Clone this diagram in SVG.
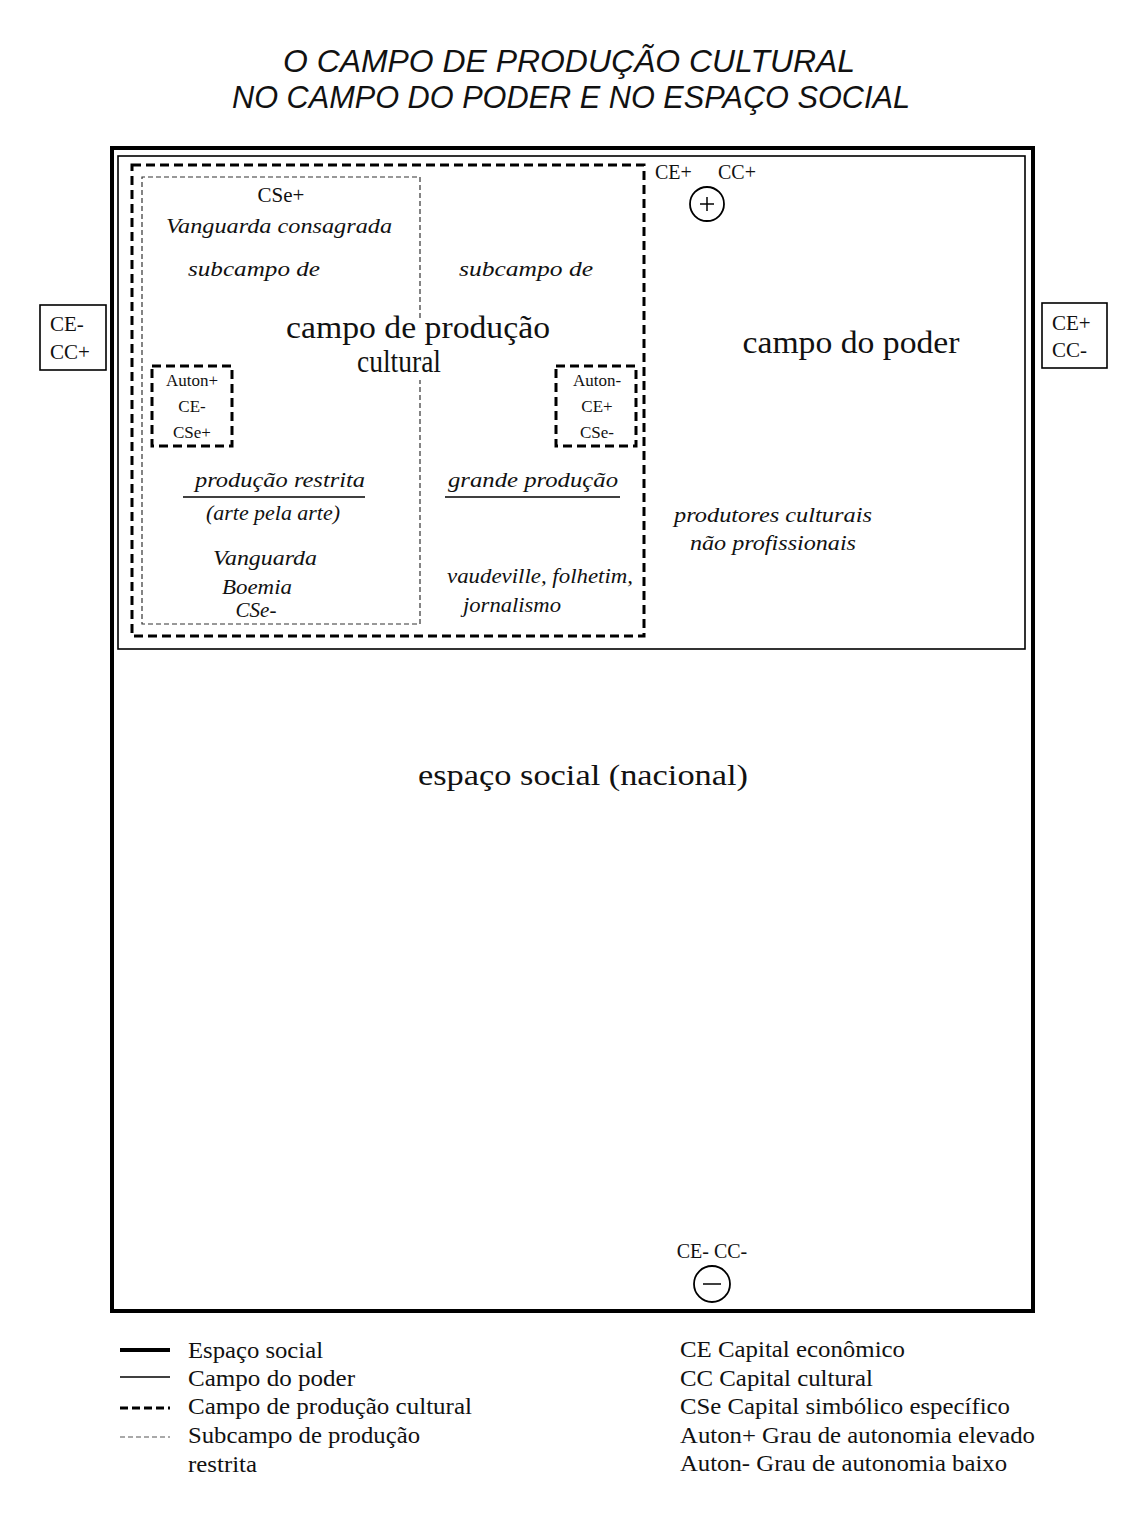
<svg xmlns="http://www.w3.org/2000/svg" width="1137" height="1521" viewBox="0 0 1137 1521">
<style>
.t{font-family:"Liberation Serif","Times New Roman",serif;fill:#111}
.i{font-family:"Liberation Serif","Times New Roman",serif;font-style:italic;fill:#111}
.h{font-family:"Liberation Sans",Arial,sans-serif;font-style:italic;fill:#111}
.thick{fill:none;stroke:#000;stroke-width:4}
.thin{fill:none;stroke:#000;stroke-width:1.6}
.dash{fill:none;stroke:#000;stroke-width:3;stroke-dasharray:9 5}
.sub{fill:none;stroke:#333;stroke-width:1.2;stroke-dasharray:5 3}
.box{fill:none;stroke:#000;stroke-width:1.6}
</style>
<rect width="1137" height="1521" fill="#ffffff"/>
<g id="title">
<text class="h" x="569" y="72" font-size="31" text-anchor="middle" textLength="572" lengthAdjust="spacingAndGlyphs">O CAMPO DE PRODUÇÃO CULTURAL</text>
<text class="h" x="571" y="108" font-size="31" text-anchor="middle" textLength="678" lengthAdjust="spacingAndGlyphs">NO CAMPO DO PODER E NO ESPAÇO SOCIAL</text>
</g>
<g id="espaco-social">
<rect class="thick" x="112" y="148" width="921" height="1163"/>
<text class="t" x="583" y="785" font-size="30" text-anchor="middle" textLength="330" lengthAdjust="spacingAndGlyphs">espaço social (nacional)</text>
<text class="t" x="712" y="1258" font-size="20" text-anchor="middle">CE- CC-</text>
<circle cx="712" cy="1284" r="18" fill="none" stroke="#000" stroke-width="1.8"/>
<line x1="703" y1="1284" x2="721" y2="1284" stroke="#000" stroke-width="1.5"/>
</g>
<g id="campo-do-poder">
<rect class="thin" x="118" y="156" width="907" height="493"/>
<text class="t" x="655" y="179" font-size="20">CE+</text>
<text class="t" x="718" y="179" font-size="20">CC+</text>
<circle cx="707" cy="204" r="17" fill="none" stroke="#000" stroke-width="1.8"/>
<line x1="700" y1="204" x2="714" y2="204" stroke="#000" stroke-width="1.5"/>
<line x1="707" y1="197" x2="707" y2="211" stroke="#000" stroke-width="1.5"/>
<text class="t" x="851" y="353" font-size="31" text-anchor="middle" textLength="217" lengthAdjust="spacingAndGlyphs">campo do poder</text>
<text class="i" x="773" y="522" font-size="21" text-anchor="middle" textLength="198" lengthAdjust="spacingAndGlyphs">produtores culturais</text>
<text class="i" x="773" y="550" font-size="21" text-anchor="middle" textLength="166" lengthAdjust="spacingAndGlyphs">não profissionais</text>
</g>
<g id="campo-producao-cultural">
<rect class="dash" x="132" y="165" width="512" height="471"/>
<text class="t" x="418" y="338" font-size="31" text-anchor="middle" textLength="264" lengthAdjust="spacingAndGlyphs">campo de produção</text>
<text class="t" x="399" y="372" font-size="31" text-anchor="middle" textLength="84" lengthAdjust="spacingAndGlyphs">cultural</text>
<text class="i" x="526" y="276" font-size="21" text-anchor="middle" textLength="134" lengthAdjust="spacingAndGlyphs">subcampo de</text>
<text class="i" x="533" y="487" font-size="21" text-anchor="middle" textLength="170" lengthAdjust="spacingAndGlyphs">grande produção</text>
<line x1="445" y1="497" x2="620" y2="497" stroke="#000" stroke-width="1.6"/>
<text class="i" x="540" y="583" font-size="21" text-anchor="middle" textLength="186" lengthAdjust="spacingAndGlyphs">vaudeville, folhetim,</text>
<text class="i" x="512" y="612" font-size="21" text-anchor="middle" textLength="98" lengthAdjust="spacingAndGlyphs">jornalismo</text>
</g>
<g id="subcampo-producao-restrita">
<path class="sub" d="M420 318 V177 H142 V624 H420 V380"/>
<text class="t" x="281" y="202" font-size="21" text-anchor="middle">CSe+</text>
<text class="i" x="279" y="233" font-size="21" text-anchor="middle" textLength="226" lengthAdjust="spacingAndGlyphs">Vanguarda consagrada</text>
<text class="i" x="254" y="276" font-size="21" text-anchor="middle" textLength="132" lengthAdjust="spacingAndGlyphs">subcampo de</text>
<text class="i" x="280" y="487" font-size="21" text-anchor="middle" textLength="170" lengthAdjust="spacingAndGlyphs">produção restrita</text>
<line x1="183" y1="497" x2="365" y2="497" stroke="#000" stroke-width="1.6"/>
<text class="i" x="273" y="520" font-size="21" text-anchor="middle" textLength="134" lengthAdjust="spacingAndGlyphs">(arte pela arte)</text>
<text class="i" x="265" y="565" font-size="21" text-anchor="middle" textLength="104" lengthAdjust="spacingAndGlyphs">Vanguarda</text>
<text class="i" x="257" y="594" font-size="21" text-anchor="middle" textLength="70" lengthAdjust="spacingAndGlyphs">Boemia</text>
<text class="i" x="256" y="617" font-size="21" text-anchor="middle">CSe-</text>
</g>
<g id="auton-plus">
<rect class="dash" x="152" y="366" width="80" height="80"/>
<text class="t" x="192" y="386" font-size="17" text-anchor="middle">Auton+</text>
<text class="t" x="192" y="412" font-size="17" text-anchor="middle">CE-</text>
<text class="t" x="192" y="438" font-size="17" text-anchor="middle">CSe+</text>
</g>
<g id="auton-minus">
<rect class="dash" x="556" y="366" width="80" height="80"/>
<text class="t" x="597" y="386" font-size="17" text-anchor="middle">Auton-</text>
<text class="t" x="597" y="412" font-size="17" text-anchor="middle">CE+</text>
<text class="t" x="597" y="438" font-size="17" text-anchor="middle">CSe-</text>
</g>
<g id="ce-minus-cc-plus">
<rect class="box" x="40" y="305" width="66" height="65"/>
<text class="t" x="50" y="331" font-size="21">CE-</text>
<text class="t" x="50" y="359" font-size="21">CC+</text>
</g>
<g id="ce-plus-cc-minus">
<rect class="box" x="1042" y="303" width="65" height="65"/>
<text class="t" x="1052" y="330" font-size="21">CE+</text>
<text class="t" x="1052" y="357" font-size="21">CC-</text>
</g>
<g id="connectors"></g>
<g id="legend">
<line x1="120" y1="1350" x2="170" y2="1350" stroke="#000" stroke-width="4"/>
<line x1="120" y1="1377" x2="170" y2="1377" stroke="#000" stroke-width="1.4"/>
<line x1="120" y1="1408" x2="170" y2="1408" stroke="#000" stroke-width="3" stroke-dasharray="8 4"/>
<line x1="120" y1="1437" x2="170" y2="1437" stroke="#555" stroke-width="1.2" stroke-dasharray="5 3"/>
<text class="t" x="188" y="1358" font-size="23" textLength="135" lengthAdjust="spacingAndGlyphs">Espaço social</text>
<text class="t" x="188" y="1386" font-size="23" textLength="167" lengthAdjust="spacingAndGlyphs">Campo do poder</text>
<text class="t" x="188" y="1414" font-size="23" textLength="284" lengthAdjust="spacingAndGlyphs">Campo de produção cultural</text>
<text class="t" x="188" y="1443" font-size="23" textLength="232" lengthAdjust="spacingAndGlyphs">Subcampo de produção</text>
<text class="t" x="188" y="1472" font-size="23" textLength="69" lengthAdjust="spacingAndGlyphs">restrita</text>
<text class="t" x="680" y="1357" font-size="23" textLength="225" lengthAdjust="spacingAndGlyphs">CE Capital econômico</text>
<text class="t" x="680" y="1386" font-size="23" textLength="193" lengthAdjust="spacingAndGlyphs">CC Capital cultural</text>
<text class="t" x="680" y="1414" font-size="23" textLength="330" lengthAdjust="spacingAndGlyphs">CSe Capital simbólico específico</text>
<text class="t" x="680" y="1443" font-size="23" textLength="355" lengthAdjust="spacingAndGlyphs">Auton+ Grau de autonomia elevado</text>
<text class="t" x="680" y="1471" font-size="23" textLength="327" lengthAdjust="spacingAndGlyphs">Auton- Grau de autonomia baixo</text>
</g>
</svg>
